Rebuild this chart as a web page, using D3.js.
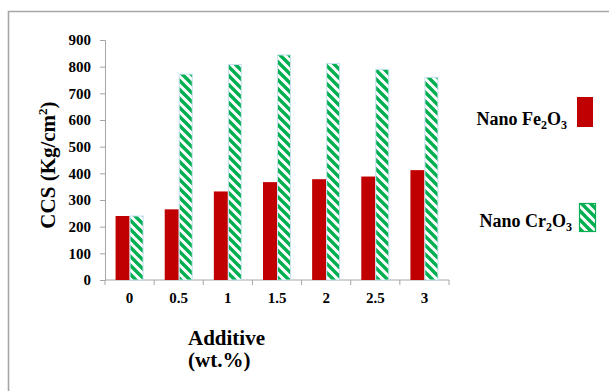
<!DOCTYPE html>
<html>
<head>
<meta charset="utf-8">
<script src="https://cdn.jsdelivr.net/npm/d3@7"></script>
<style>
  body { margin: 0; background: #fff; }
  svg text { font-family: "Liberation Serif", "Times New Roman", "DejaVu Serif", serif; }
</style>
</head>
<body>
<svg id="chart" width="609" height="391"></svg>
<script>
// Compressive strength by additive amount
const categories = ["0", "0.5", "1", "1.5", "2", "2.5", "3"];
const fe2o3 = [240, 265, 332, 367, 378, 388, 412];
const cr2o3 = [240, 772, 808, 844, 812, 790, 760];
const yTicks = [0, 100, 200, 300, 400, 500, 600, 700, 800, 900];

const FONT = '"Liberation Serif", "Times New Roman", "DejaVu Serif", serif';
const svg = d3.select("#chart");
const W = 609, H = 391;

// frame
svg.append("path")
  .attr("d", `M8.5,${H} V11.5 H${W}`)
  .attr("fill", "none").attr("stroke", "#a6a6a6").attr("stroke-width", 1.6);

// diagonal hatch
const defs = svg.append("defs");
const pat = defs.append("pattern")
  .attr("id", "hatch").attr("patternUnits", "userSpaceOnUse")
  .attr("width", 9).attr("height", 9);
pat.append("rect").attr("width", 9).attr("height", 9).attr("fill", "#fff");
pat.append("path")
  .attr("d", "M-1,-1 L10,10 M-5,4 L1,10 M4,-5 L10,1")
  .attr("stroke", "#00b050").attr("stroke-width", 3.4);

const x = d3.scaleBand().domain(categories).range([105, 449]);
const y = d3.scaleLinear().domain([0, 900]).range([280, 40]);
const barW = 14;

// y axis
const yAxis = svg.append("g").attr("transform", "translate(105,0)")
  .call(d3.axisLeft(y).tickValues(yTicks).tickSize(5).tickPadding(9));
yAxis.attr("font-family", FONT);
yAxis.select(".domain").attr("stroke", "#a6a6a6");
yAxis.selectAll(".tick line").attr("stroke", "#a6a6a6");
yAxis.selectAll("text").attr("font-size", 15).attr("font-weight", "bold")
  .attr("font-family", FONT).attr("fill", "#000");

// x axis with ticks between categories
const xg = svg.append("g").attr("transform", "translate(0,280)");
xg.append("line").attr("x1", 105).attr("x2", 449).attr("stroke", "#a6a6a6");
xg.selectAll("line.tk").data(categories.map(c => x(c)).concat([x.range()[1]]))
  .join("line").attr("class", "tk")
  .attr("x1", d => d).attr("x2", d => d).attr("y1", 0).attr("y2", 5)
  .attr("stroke", "#a6a6a6");
xg.selectAll("text").data(categories).join("text")
  .attr("x", d => x(d) + x.bandwidth() / 2).attr("y", 23)
  .attr("text-anchor", "middle").attr("font-size", 15).attr("font-weight", "bold")
  .attr("font-family", FONT)
  .text(d => d);

// bars
const cx = c => x(c) + x.bandwidth() / 2;
svg.append("g").selectAll("rect").data(categories).join("rect")
  .attr("x", (c) => cx(c) - barW)
  .attr("y", (c, i) => y(fe2o3[i]))
  .attr("width", barW).attr("height", (c, i) => y(0) - y(fe2o3[i]))
  .attr("fill", "#c00000");
svg.append("g").selectAll("rect").data(categories).join("rect")
  .attr("x", (c) => cx(c) + 0.5)
  .attr("y", (c, i) => y(cr2o3[i]))
  .attr("width", barW - 1).attr("height", (c, i) => y(0) - y(cr2o3[i]))
  .attr("fill", "url(#hatch)").attr("stroke", "#c6e0f0").attr("stroke-width", 1);

// axis titles
svg.append("text")
  .attr("transform", "translate(55,165) rotate(-90)")
  .attr("text-anchor", "middle").attr("font-size", 21).attr("font-weight", "bold")
  .attr("font-family", FONT)
  .html('CCS (Kg/cm<tspan dy="-8" font-size="13">2</tspan><tspan dy="8">)</tspan>');
svg.append("text").attr("x", 188).attr("y", 345).attr("font-family", FONT)
  .attr("font-size", 21).attr("font-weight", "bold").text("Additive");
svg.append("text").attr("x", 188).attr("y", 367).attr("font-family", FONT)
  .attr("font-size", 21).attr("font-weight", "bold").text("(wt.%)");

// legend
const leg = svg.append("g").attr("font-family", FONT);
leg.append("text").attr("x", 567).attr("y", 125).attr("text-anchor", "end")
  .attr("font-size", 18).attr("font-weight", "bold")
  .html('Nano Fe<tspan dy="4" font-size="12">2</tspan><tspan dy="-4">O</tspan><tspan dy="4" font-size="12">3</tspan>');
leg.append("rect").attr("x", 577).attr("y", 97).attr("width", 16).attr("height", 30)
  .attr("fill", "#c00000");
leg.append("text").attr("x", 572).attr("y", 227).attr("text-anchor", "end")
  .attr("font-size", 18).attr("font-weight", "bold")
  .html('Nano Cr<tspan dy="4" font-size="12">2</tspan><tspan dy="-4">O</tspan><tspan dy="4" font-size="12">3</tspan>');
leg.append("rect").attr("x", 579.5).attr("y", 203.5).attr("width", 16).attr("height", 28)
  .attr("fill", "url(#hatch)").attr("stroke", "#00b050").attr("stroke-width", 1.2);
</script>
</body>
</html>
